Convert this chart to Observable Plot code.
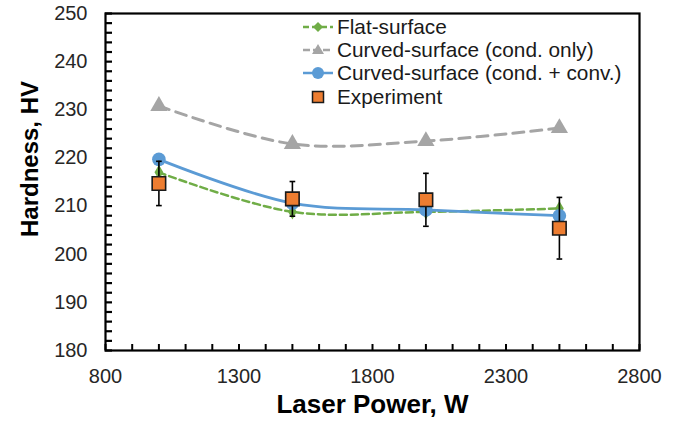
<!DOCTYPE html>
<html>
<head>
<meta charset="utf-8">
<script src="https://cdn.jsdelivr.net/npm/d3@7"></script>
<script src="https://cdn.jsdelivr.net/npm/@observablehq/plot@0.6"></script>
<style>
  html, body { margin: 0; padding: 0; background: #fff; }
  #wrap { position: relative; width: 681px; height: 423px; font-family: "Liberation Sans", Arial, sans-serif; }
  #legend { position: absolute; left: 303px; top: 15px; }
  .row { display: flex; align-items: center; height: 23.3px; font-size: 20.8px; color: #1a1a1a; white-space: nowrap; }
  .row svg { flex: none; margin-right: 2px; }
</style>
</head>
<body>
<div id="wrap"></div>
<script>
// ---- data ----
const power = [1000, 1500, 2000, 2500];
const flatSurface = [217.0, 208.8, 208.8, 209.5];
const curvedCondOnly = [230.8, 222.9, 223.5, 226.2];
const curvedCondConv = [219.7, 210.6, 209.2, 208.0];
const experiment = [214.7, 211.5, 211.3, 205.4];
const experimentErr = [4.6, 3.6, 5.5, 6.4];

const seriesNames = ["Flat-surface", "Curved-surface (cond. only)", "Curved-surface (cond. + conv.)", "Experiment"];
const xDomain = [800, 2800];
const yDomain = [180, 250];
const xTickLabels = [800, 1300, 1800, 2300, 2800];
const yTickLabels = [180, 190, 200, 210, 220, 230, 240, 250];
const xMinorTicks = d3.range(800, 2801, 100);
const yMinorTicks = d3.range(180, 251, 2);

// ---- styles ----
const colors = { flat: "#70AD47", cond: "#A5A5A5", conv: "#5B9BD5", exp: "#ED7D31" };
const W = 681, H = 423, mL = 105, mR = 42, mT = 13, mB = 73;
const innerW = W - mL - mR, innerH = H - mT - mB;
const font = "Liberation Sans, Arial, sans-serif";
const yTickLen = 7, xTickLen = 6;
// tick lengths expressed in data units of each scale (style only)
const yTickLenData = (xDomain[1] - xDomain[0]) * yTickLen / innerW;
const xTickLenData = (yDomain[1] - yDomain[0]) * xTickLen / innerH;

const rows = (ys) => power.map((p, i) => ({ x: p, y: ys[i] }));
const expRows = power.map((p, i) => ({ x: p, y: experiment[i], lo: experiment[i] - experimentErr[i], hi: experiment[i] + experimentErr[i] }));

const capSymbol = { draw(ctx, size) { const w = Math.sqrt(size) / 2; ctx.moveTo(-w, 0); ctx.lineTo(w, 0); } };

const chart = Plot.plot({
  width: W, height: H,
  marginLeft: mL, marginRight: mR, marginTop: mT, marginBottom: mB,
  style: { fontFamily: font, background: "#fff" },
  x: { domain: xDomain },
  y: { domain: yDomain },
  marks: [
    // axes labels
    Plot.axisX({ ticks: xTickLabels, tickFormat: d => String(d), tickSize: 0, tickPadding: 18, fontSize: 20, color: "#262626", label: null }),
    Plot.axisY({ ticks: yTickLabels, tickFormat: d => String(d), tickSize: 0, tickPadding: 18, fontSize: 20, color: "#262626", label: null }),
    // inward ticks
    Plot.ruleY(yMinorTicks, { y: d => d, x1: () => xDomain[0], x2: () => xDomain[0] + yTickLenData, stroke: "black", strokeWidth: 2.2 }),
    Plot.ruleX(xMinorTicks, { x: d => d, y1: () => yDomain[0], y2: () => yDomain[0] + xTickLenData, stroke: "black", strokeWidth: 2 }),
    // flat surface
    Plot.line(rows(flatSurface), { x: "x", y: "y", stroke: colors.flat, strokeWidth: 2.5, strokeDasharray: "7,4", curve: "catmull-rom" }),
    Plot.dot(rows(flatSurface), { x: "x", y: "y", symbol: "diamond", r: 4.6, fill: colors.flat, stroke: "none" }),
    // curved cond only
    Plot.line(rows(curvedCondOnly), { x: "x", y: "y", stroke: colors.cond, strokeWidth: 3, strokeDasharray: "11,7", curve: "catmull-rom" }),
    Plot.dot(rows(curvedCondOnly), { x: "x", y: "y", symbol: "triangle", r: 6.4, fill: colors.cond, stroke: "none" }),
    // curved cond + conv
    Plot.line(rows(curvedCondConv), { x: "x", y: "y", stroke: colors.conv, strokeWidth: 2.75, curve: "catmull-rom" }),
    Plot.dot(rows(curvedCondConv), { x: "x", y: "y", symbol: "circle", r: 6.8, fill: colors.conv, stroke: "none" }),
    // experiment with error bars
    Plot.ruleX(expRows, { x: "x", y1: "lo", y2: "hi", stroke: "black", strokeWidth: 1.6 }),
    Plot.dot(expRows, { x: "x", y: "lo", symbol: capSymbol, r: 3.2, stroke: "black", strokeWidth: 1.6, fill: "none" }),
    Plot.dot(expRows, { x: "x", y: "hi", symbol: capSymbol, r: 3.2, stroke: "black", strokeWidth: 1.6, fill: "none" }),
    Plot.dot(expRows, { x: "x", y: "y", symbol: "square", r: 7.6, fill: colors.exp, stroke: "#1a1a1a", strokeWidth: 1.6 }),
    // frame
    Plot.frame({ stroke: "black", strokeWidth: 2.2 }),
    // axis titles
    Plot.text(["Hardness, HV"], { frameAnchor: "left", rotate: -90, dx: -75, dy: -23, textAnchor: "middle", lineAnchor: "middle", fontSize: 24, fontWeight: "bold", fill: "black" }),
    Plot.text(["Laser Power, W"], { frameAnchor: "bottom", dy: 54, textAnchor: "middle", lineAnchor: "middle", fontSize: 26, fontWeight: "bold", fill: "black" })
  ]
});

const wrap = document.getElementById("wrap");
wrap.appendChild(chart);

// ---- legend (HTML overlay) ----
const legendItems = [
  { name: seriesNames[0], color: colors.flat, dash: "6,3", line: true, sym: "diamond" },
  { name: seriesNames[1], color: colors.cond, dash: "7,3", line: true, sym: "triangle" },
  { name: seriesNames[2], color: colors.conv, dash: null, line: true, sym: "circle" },
  { name: seriesNames[3], color: colors.exp, dash: null, line: false, sym: "square" }
];
const legend = document.createElement("div");
legend.id = "legend";
for (const it of legendItems) {
  const row = document.createElement("div");
  row.className = "row";
  const sw = 32, sh = 20, cx = 15, cy = 10;
  let s = `<svg width="${sw}" height="${sh}" viewBox="0 0 ${sw} ${sh}">`;
  if (it.line) s += `<line x1="0" x2="${sw - 2}" y1="${cy}" y2="${cy}" stroke="${it.color}" stroke-width="2.5" ${it.dash ? `stroke-dasharray="${it.dash}"` : ""}/>`;
  if (it.sym === "diamond") s += `<path d="M${cx},${cy - 5}L${cx + 5},${cy}L${cx},${cy + 5}L${cx - 5},${cy}Z" fill="${it.color}"/>`;
  if (it.sym === "triangle") s += `<path d="M${cx},${cy - 6}L${cx + 6},${cy + 4}L${cx - 6},${cy + 4}Z" fill="${it.color}"/>`;
  if (it.sym === "circle") s += `<circle cx="${cx}" cy="${cy}" r="6" fill="${it.color}"/>`;
  if (it.sym === "square") s += `<rect x="${cx - 5.5}" y="${cy - 5.5}" width="11" height="11" fill="${it.color}" stroke="#1a1a1a" stroke-width="1.5"/>`;
  s += `</svg>`;
  row.innerHTML = s + `<span>${it.name}</span>`;
  legend.appendChild(row);
}
wrap.appendChild(legend);
</script>
</body>
</html>
